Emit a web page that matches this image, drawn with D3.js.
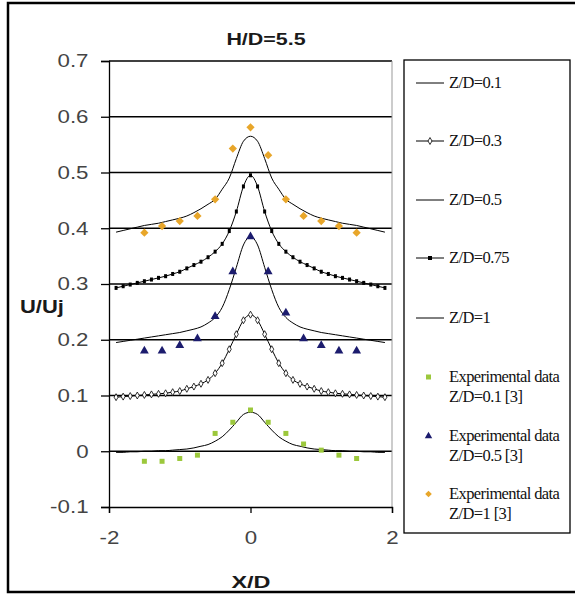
<!DOCTYPE html>
<html lang="en">
<head>
<meta charset="UTF-8">
<title>H/D=5.5</title>
<script src="https://d3js.org/d3.v7.min.js"></script>
<style>
  body { margin: 0; background: #fff; }
</style>
</head>
<body>
<script>
// x positions of the CFD curves (X/D)
const xCfd = [-1.9,-1.8,-1.7,-1.6,-1.5,-1.4,-1.3,-1.2,-1.1,-1.0,-0.9,-0.8,-0.7,-0.6,-0.5,-0.4,-0.3,-0.2,-0.1,
  0,0.1,0.2,0.3,0.4,0.5,0.6,0.7,0.8,0.9,1.0,1.1,1.2,1.3,1.4,1.5,1.6,1.7,1.8,1.9];

// CFD values U/Uj (each curve offset by 0.1)
const zd01 = [-0.002,-0.002,-0.001,-0.001,0,0,0.001,0.001,0.002,0.003,0.004,0.006,0.009,0.012,0.018,0.026,0.038,0.052,0.066,
  0.07,0.066,0.052,0.038,0.026,0.018,0.012,0.009,0.006,0.004,0.003,0.002,0.001,0.001,0,0,-0.001,-0.001,-0.002,-0.002];
const zd03 = [0.097,0.098,0.099,0.1,0.101,0.102,0.103,0.104,0.106,0.108,0.112,0.116,0.121,0.128,0.14,0.158,0.183,0.21,0.235,
  0.245,0.235,0.21,0.183,0.158,0.14,0.128,0.121,0.116,0.112,0.108,0.106,0.104,0.103,0.102,0.101,0.1,0.099,0.098,0.097];
const zd05 = [0.195,0.197,0.199,0.201,0.203,0.205,0.207,0.209,0.211,0.213,0.216,0.219,0.223,0.23,0.24,0.258,0.29,0.33,0.37,
  0.385,0.37,0.33,0.29,0.258,0.24,0.23,0.223,0.219,0.216,0.213,0.211,0.209,0.207,0.205,0.203,0.201,0.199,0.197,0.195];
const zd075 = [0.293,0.296,0.299,0.302,0.305,0.308,0.311,0.314,0.318,0.322,0.328,0.334,0.34,0.348,0.358,0.372,0.395,0.43,0.475,
  0.495,0.475,0.43,0.395,0.372,0.358,0.348,0.34,0.334,0.328,0.322,0.318,0.314,0.311,0.308,0.305,0.302,0.299,0.296,0.293];
const zd1 = [0.393,0.396,0.399,0.402,0.405,0.407,0.409,0.412,0.415,0.418,0.422,0.428,0.435,0.443,0.452,0.47,0.49,0.525,0.556,
  0.565,0.556,0.525,0.49,0.47,0.452,0.443,0.435,0.428,0.422,0.418,0.415,0.412,0.409,0.407,0.405,0.402,0.399,0.396,0.393];

// experimental data [3]
const xExp = [-1.5,-1.25,-1,-0.75,-0.5,-0.25,0,0.25,0.5,0.75,1,1.25,1.5];
const exp01 = [-0.018,-0.018,-0.013,-0.007,0.032,0.052,0.074,0.052,0.032,0.013,0.002,-0.007,-0.013];
const exp05 = [0.18,0.18,0.19,0.202,0.242,0.322,0.385,0.322,0.248,0.202,0.19,0.18,0.18];
const exp1 = [0.392,0.404,0.413,0.422,0.452,0.543,0.581,0.531,0.452,0.422,0.413,0.404,0.392];

const yTicks = [-0.1,0,0.1,0.2,0.3,0.4,0.5,0.6,0.7];
const xTicks = [-2,0,2];

const W = 575, H = 594;
const svg = d3.select("body").append("svg")
  .attr("width", W).attr("height", H);

// outer frame
svg.append("rect")
  .attr("x", 8).attr("y", 3).attr("width", 580).attr("height", 589)
  .attr("fill", "white").attr("stroke", "black").attr("stroke-width", 2.5);

const x = d3.scaleLinear().domain([-2, 2]).range([109, 392]);
const y = d3.scaleLinear().domain([-0.1, 0.7]).range([507, 61]);

// gridlines
svg.append("g").selectAll("line")
  .data(yTicks.filter(d => d > -0.1))
  .join("line")
  .attr("x1", x(-2)).attr("x2", x(2))
  .attr("y1", d => y(d)).attr("y2", d => y(d))
  .attr("stroke", "black").attr("stroke-width", 1.3);

// right edge of plot area
svg.append("line")
  .attr("x1", x(2)).attr("x2", x(2)).attr("y1", y(0.7)).attr("y2", y(-0.1))
  .attr("stroke", "#999").attr("stroke-width", 1);

// plain hyphen minus like the original
const fmt = d => String(+d.toFixed(1));

// axes (the original picture is stretched sideways, so sans text is wide)
const yAxis = svg.append("g")
  .attr("transform", `translate(${x(-2)},0)`)
  .call(d3.axisLeft(y).tickValues(yTicks).tickSize(8).tickPadding(8).tickFormat(fmt));
const xAxis = svg.append("g")
  .attr("transform", `translate(0,${y(-0.1)})`)
  .call(d3.axisBottom(x).tickValues(xTicks).tickSize(6).tickPadding(18).tickFormat(fmt));
[yAxis, xAxis].forEach(a => {
  a.select(".domain").attr("stroke", "black").attr("stroke-width", 1.3);
  a.selectAll(".tick line").attr("stroke", "black").attr("stroke-width", 1.3);
  a.selectAll("text").attr("font-family", "Liberation Sans, Arial, sans-serif")
    .attr("font-size", 18).attr("fill", "#444")
    .attr("transform", "scale(1.24,1)");
});
yAxis.selectAll("text").attr("x", -16.5);

// CFD curves
const curves = [zd01, zd03, zd05, zd075, zd1];
const line = d3.line().x(d => x(d[0])).y(d => y(d[1])).curve(d3.curveMonotoneX);
curves.forEach(vals => {
  svg.append("path")
    .datum(xCfd.map((v, i) => [v, vals[i]]))
    .attr("d", line)
    .attr("fill", "none").attr("stroke", "black").attr("stroke-width", 1);
});

// markers on Z/D=0.3 (open diamonds)
svg.append("g").selectAll("path")
  .data(xCfd.map((v, i) => [v, zd03[i]]))
  .join("path")
  .attr("d", d3.symbol(d3.symbolDiamond, 14))
  .attr("transform", d => `translate(${x(d[0])},${y(d[1])})`)
  .attr("fill", "white").attr("stroke", "black").attr("stroke-width", 0.8);

// markers on Z/D=0.75 (small dashes)
svg.append("g").selectAll("rect")
  .data(xCfd.map((v, i) => [v, zd075[i]]))
  .join("rect")
  .attr("x", d => x(d[0]) - 1.5).attr("y", d => y(d[1]) - 2)
  .attr("width", 3).attr("height", 4).attr("fill", "black");

// experimental points
const green = "#9cc83c", navy = "#1c1c6e", orange = "#e8a62a";
svg.append("g").selectAll("rect")
  .data(xExp.map((v, i) => [v, exp01[i]]))
  .join("rect")
  .attr("x", d => x(d[0]) - 2.5).attr("y", d => y(d[1]) - 2.5)
  .attr("width", 5).attr("height", 5).attr("fill", green);
svg.append("g").selectAll("path")
  .data(xExp.map((v, i) => [v, exp05[i]]))
  .join("path")
  .attr("d", d3.symbol(d3.symbolTriangle, 34))
  .attr("transform", d => `translate(${x(d[0])},${y(d[1])})`)
  .attr("fill", navy);
// Excel style diamond: a square turned 45 degrees
svg.append("g").selectAll("path")
  .data(xExp.map((v, i) => [v, exp1[i]]))
  .join("path")
  .attr("d", d3.symbol(d3.symbolSquare, 34))
  .attr("transform", d => `translate(${x(d[0])},${y(d[1])}) rotate(45)`)
  .attr("fill", orange);

// titles
const sans = "Liberation Sans, Arial, sans-serif";
function wideText(tx, ty, size, sx, anchor, label) {
  svg.append("text")
    .attr("transform", `translate(${tx},${ty}) scale(${sx},1)`)
    .attr("text-anchor", anchor)
    .attr("font-family", sans).attr("font-size", size).attr("font-weight", "bold")
    .attr("fill", "#1a1a1a").text(label);
}
wideText(266, 45, 16.5, 1.3, "middle", "H/D=5.5");
wideText(20, 313, 18, 1.22, "start", "U/Uj");
wideText(251, 588, 16.5, 1.42, "middle", "X/D");

// legend
const legend = svg.append("g");
legend.append("rect")
  .attr("x", 404).attr("y", 60).attr("width", 166).attr("height", 473)
  .attr("fill", "white").attr("stroke", "black").attr("stroke-width", 1.3);

const serif = "Liberation Serif, Times New Roman, serif";
const lineItems = [
  {label: "Z/D=0.1", y: 83, mark: null},
  {label: "Z/D=0.3", y: 141, mark: "diamond"},
  {label: "Z/D=0.5", y: 200, mark: null},
  {label: "Z/D=0.75", y: 258, mark: "dash"},
  {label: "Z/D=1", y: 318, mark: null}
];
lineItems.forEach(it => {
  legend.append("line").attr("x1", 416).attr("x2", 444).attr("y1", it.y).attr("y2", it.y)
    .attr("stroke", "black").attr("stroke-width", 1);
  if (it.mark === "diamond") {
    legend.append("path").attr("d", d3.symbol(d3.symbolDiamond, 14))
      .attr("transform", `translate(430,${it.y})`)
      .attr("fill", "white").attr("stroke", "black").attr("stroke-width", 0.8);
  } else if (it.mark === "dash") {
    legend.append("rect").attr("x", 428).attr("y", it.y - 2).attr("width", 4).attr("height", 4)
      .attr("fill", "black");
  }
  legend.append("text").attr("x", 449).attr("y", it.y + 5)
    .attr("font-family", serif).attr("font-size", 16.5).attr("letter-spacing", -0.6)
    .attr("fill", "#111").text(it.label);
});

const expItems = [
  {lines: ["Experimental data", "Z/D=0.1  [3]"], y: 377, sym: "square", color: green},
  {lines: ["Experimental data", "Z/D=0.5 [3]"], y: 436, sym: "triangle", color: navy},
  {lines: ["Experimental data", "Z/D=1  [3]"], y: 494, sym: "diamond", color: orange}
];
expItems.forEach(it => {
  if (it.sym === "square") {
    legend.append("rect").attr("x", 426).attr("y", it.y - 2.5).attr("width", 5).attr("height", 5)
      .attr("fill", it.color);
  } else if (it.sym === "triangle") {
    legend.append("path").attr("d", d3.symbol(d3.symbolTriangle, 24))
      .attr("transform", `translate(428.5,${it.y})`)
      .attr("fill", it.color);
  } else {
    legend.append("path").attr("d", d3.symbol(d3.symbolSquare, 22))
      .attr("transform", `translate(428.5,${it.y}) rotate(45)`)
      .attr("fill", it.color);
  }
  it.lines.forEach((t, j) => {
    legend.append("text").attr("x", 449).attr("y", it.y + 5 + j * 20)
      .attr("font-family", serif).attr("font-size", 16.5).attr("letter-spacing", -0.6)
      .attr("fill", "#111").text(t);
  });
});
</script>
</body>
</html>
